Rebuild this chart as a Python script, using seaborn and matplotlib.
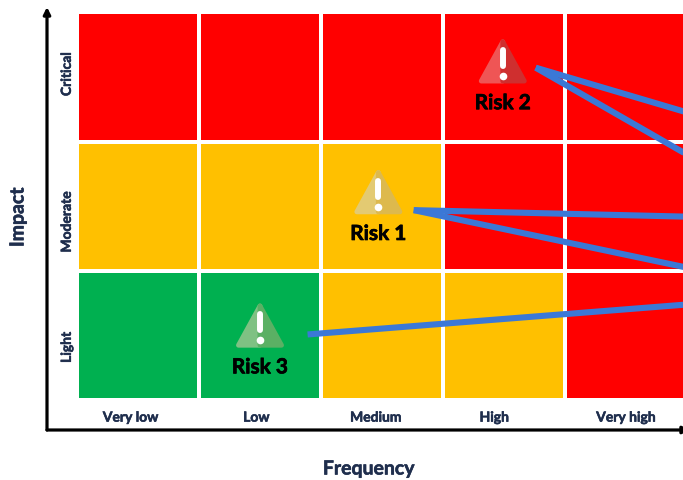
import matplotlib
matplotlib.use("Agg")
import matplotlib.pyplot as plt
from matplotlib.colors import ListedColormap
from matplotlib.patches import Polygon, FancyArrowPatch
import matplotlib.patheffects as pe
import seaborn as sns

# data
frequency = ["Very low", "Low", "Medium", "High", "Very high"]
impact = ["Critical", "Moderate", "Light"]
levels = [
    [2, 2, 2, 2, 2],
    [1, 1, 1, 2, 2],
    [0, 0, 1, 1, 2],
]
level_colors = ["#00B050", "#FFC000", "#FF0000"]
freq_ticks = [0.44, 1.47, 2.45, 3.42, 4.50]
impact_ticks = [0.48, 1.62, 2.59]

risk_names = ["Risk 1", "Risk 2", "Risk 3"]
risk_x = [2.47, 3.49, 1.50]
risk_y = [1.38, 0.37, 2.41]
risk_left = ["#E3CA72", "#EF5555", "#7FC183"]
risk_right = ["#DDB94D", "#CF2F2F", "#5BB064"]

# blue connector lines: start, then where they leave the picture
line_x0 = [2.76, 2.76, 3.76, 3.76, 1.89]
line_y0 = [1.52, 1.52, 0.42, 0.42, 2.48]
line_x1 = [4.98, 4.98, 4.98, 4.98, 4.98]
line_y1 = [1.57, 1.96, 0.76, 1.08, 2.25]

W, H = 683, 481
sns.set_style("white")
plt.rcParams["font.family"] = ["Lato", "DejaVu Sans"]

fig = plt.figure(figsize=(W / 100, H / 100), dpi=100)
ax = fig.add_axes([77 / W, 1 - 401.5 / H, 610 / W, 388.5 / H])

sns.heatmap(
    levels,
    cmap=ListedColormap(level_colors),
    vmin=0,
    vmax=2,
    cbar=False,
    linewidths=1.7,
    linecolor="white",
    ax=ax,
)
ax.set_aspect("auto")

navy = "#1F2E4D"
thick = [pe.withStroke(linewidth=0.4, foreground=navy)]
ax.set_xticks(freq_ticks)
ax.set_xticklabels(frequency, fontsize=10, fontweight="bold", color=navy, path_effects=thick)
ax.set_yticks(impact_ticks)
ax.set_yticklabels(impact, fontsize=10, fontweight="bold", color=navy,
                   rotation=90, va="center", path_effects=thick)
ax.tick_params(length=0)
ax.tick_params(axis="x", pad=8)
ax.tick_params(axis="y", pad=3)

# warning icons
ix, iy = 25 / 121.8, 1 / 128.67  # half width, one pixel in y
for name, x, y, c1, c2 in zip(risk_names, risk_x, risk_y, risk_left, risk_right):
    apex = y - 18 * iy
    base = y + 21 * iy
    for side, col in ((-1, c1), (1, c2)):
        ax.add_patch(Polygon(
            [(x, apex), (x + side * ix * 0.86, base), (x, base)],
            closed=True, fc=col, ec=col, lw=3.5, joinstyle="round", zorder=3))
    ax.plot([x, x], [y - 10 * iy, y + 6 * iy], color="white", lw=4.3,
            solid_capstyle="round", zorder=4)
    ax.plot([x], [y + 16 * iy], marker="o", ms=5.5, color="white", mew=0, zorder=4)
    ax.text(x, y + 43 * iy, name, ha="center", va="center", fontsize=15,
            fontweight="bold", color="black", zorder=5,
            path_effects=[pe.withStroke(linewidth=0.5, foreground="black")])

for x0, y0, x1, y1 in zip(line_x0, line_y0, line_x1, line_y1):
    ax.plot([x0, x1], [y0 + 0.01, y1 + 0.01], color="#3B78D6", lw=4.4,
            solid_capstyle="butt", zorder=6)

# axis arrows
arrow = dict(arrowstyle="-|>", color="black", lw=2.3, mutation_scale=10,
             shrinkA=0, shrinkB=0)
for end in ((47 / W, 1 - 8 / H), (690 / W, 1 - 431 / H)):
    fig.add_artist(FancyArrowPatch(
        (47 / W, 1 - 431 / H), end, transform=fig.transFigure, **arrow))

fig.text(369 / W, 1 - 470 / H, "Frequency", ha="center", va="center",
         fontsize=14, fontweight="bold", color=navy, path_effects=thick)
fig.text(18 / W, 1 - 218 / H, "Impact", ha="center", va="center", rotation=90,
         fontsize=14, fontweight="bold", color=navy, path_effects=thick)

fig.savefig("out.png", dpi=100)
